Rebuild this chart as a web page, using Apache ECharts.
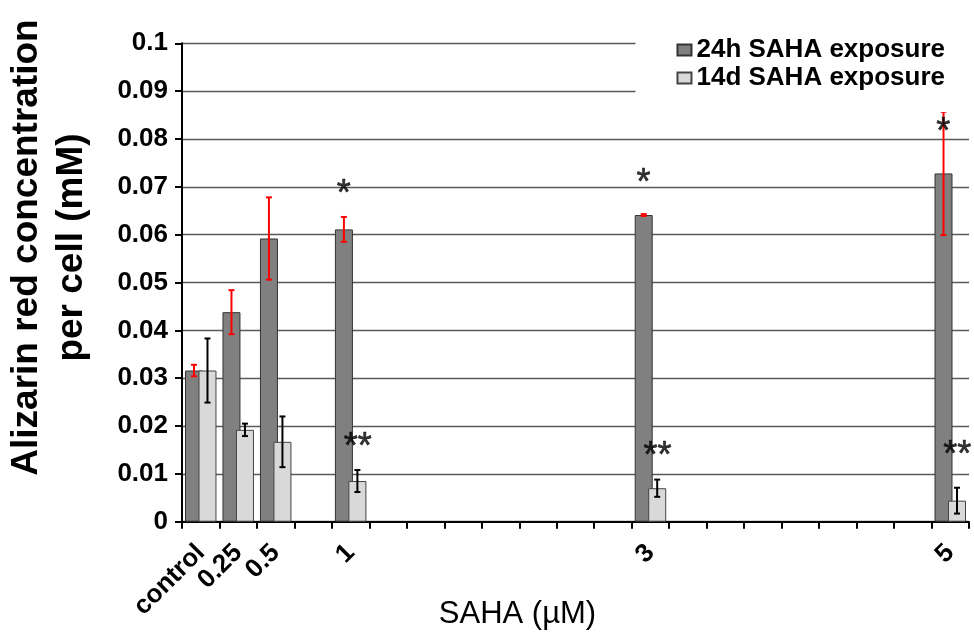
<!DOCTYPE html>
<html>
<head>
<meta charset="utf-8">
<script src="https://cdn.jsdelivr.net/npm/echarts@6/dist/echarts.min.js"></script>
<style>
html,body{margin:0;padding:0;background:#fff;}
#chart{width:974px;height:637px;}
</style>
</head>
<body>
<div id="chart"></div>
<script>
// Dose axis (0.25 µM steps), tick labels only at measured doses
const categories = ['control','0.25','0.5','','1','','','','','','','','3','','','','','','','','5'];
const seriesNames = ['24h SAHA exposure','14d SAHA exposure'];
const values24h = [0.0316,0.0438,0.0592,null,0.0611,null,null,null,null,null,null,null,0.0641,null,null,null,null,null,null,null,0.0728];
const err24h    = [0.0012,0.0046,0.0086,null,0.0026,null,null,null,null,null,null,null,0.0002,null,null,null,null,null,null,null,0.0129];
const values14d = [0.0316,0.0192,0.0167,null,0.0085,null,null,null,null,null,null,null,0.0070,null,null,null,null,null,null,null,0.0044];
const err14d    = [0.0067,0.0013,0.0053,null,0.0023,null,null,null,null,null,null,null,0.0018,null,null,null,null,null,null,null,0.0027];
// significance marks (text, y value in mM)
const sig24hText = [null,null,null,null,'*',null,null,null,null,null,null,null,'*',null,null,null,null,null,null,null,'*'];
const sig24hY    = [null,null,null,null,0.0683,null,null,null,null,null,null,null,0.0706,null,null,null,null,null,null,null,0.0812];
const sig14dText = [null,null,null,null,'**',null,null,null,null,null,null,null,'**',null,null,null,null,null,null,null,'**'];
const sig14dY    = [null,null,null,null,0.0153,null,null,null,null,null,null,null,0.0135,null,null,null,null,null,null,null,0.0137];
const yTicks = {min:0, max:0.1, interval:0.01};

const FONT = 'Liberation Sans, Arial, sans-serif';
const CAT_GAP = 0.16, BAR_GAP = -0.25;

function errData(vals, errs){
  const out = [];
  vals.forEach((v,i)=>{ if(v!=null && errs[i]!=null) out.push([i, v, errs[i]]); });
  return out;
}
function sigData(texts, ys){
  const out = [];
  texts.forEach((t,i)=>{ if(t) out.push({value:[i, ys[i]], name:t}); });
  return out;
}
function errRender(sign, color){
  return function(params, api){
    const idx = api.value(0), v = api.value(1), e = api.value(2);
    const band = api.size([1,0])[0];
    const bw = band*(1-CAT_GAP)/(2+BAR_GAP);
    const off = sign * bw*(1+BAR_GAP)/2;
    const x = api.coord([idx, v])[0] + off;
    const yt = api.coord([idx, v+e])[1];
    const yb = api.coord([idx, v-e])[1];
    const cap = 3;
    const st = {stroke: color, lineWidth: 2};
    return {type:'group', children:[
      {type:'line', shape:{x1:x,y1:yt,x2:x,y2:yb}, style:st},
      {type:'line', shape:{x1:x-cap,y1:yt,x2:x+cap,y2:yt}, style:st},
      {type:'line', shape:{x1:x-cap,y1:yb,x2:x+cap,y2:yb}, style:st}
    ]};
  };
}
function sigSeries(texts, ys, dx){
  return {
    type:'scatter', data: sigData(texts, ys), symbolSize: 0, silent:true,
    label:{show:true, position:'inside', offset:[dx,0], formatter: p=>p.name,
      fontFamily: FONT, fontSize: 36, color:'#000', verticalAlign:'middle', align:'center',
      textBorderColor:'#000', textBorderWidth:0.6},
    z: 5
  };
}

const chart = echarts.init(document.getElementById('chart'), null, {renderer:'canvas'});
chart.setOption({
  backgroundColor:'#fff',
  animation:false,
  grid:{left:182, right:5, top:43.3, bottom:115.3, containLabel:false, outerBoundsMode:'none'},
  legend:{
    data: seriesNames, orient:'vertical', right:0, top:20,
    padding:[16, 29, 20, 41], backgroundColor:'#fff',
    itemWidth:14, itemHeight:11, itemGap:0, icon:'rect',
    textStyle:{fontFamily:FONT, fontSize:26, fontWeight:'bold', color:'#000', lineHeight:28},
    z: 10
  },
  xAxis:{
    type:'category', data: categories, boundaryGap:true,
    name:'SAHA (µM)', nameLocation:'middle', nameGap:77, nameMoveOverlap:false,
    nameTextStyle:{fontFamily:FONT, fontSize:31, color:'#000', verticalAlign:'top', padding:[0,116,0,0]},
    axisLine:{lineStyle:{color:'#000', width:2}},
    axisTick:{show:true, interval:0, length:7, lineStyle:{color:'#000', width:2}},
    axisLabel:{interval:0, rotate:45, margin:27, fontFamily:FONT, fontSize:26, fontWeight:'bold', color:'#000'},
    splitLine:{show:false}
  },
  yAxis:{
    type:'value', min:yTicks.min, max:yTicks.max, interval:yTicks.interval,
    name:'Alizarin red concentration\nper cell (mM)', nameLocation:'middle', nameGap:88, nameRotate:90, nameMoveOverlap:false,
    nameTextStyle:{fontFamily:FONT, fontSize:37, fontWeight:'bold', color:'#000', lineHeight:45, padding:[0,0,0,70]},
    axisLine:{show:true, lineStyle:{color:'#000', width:2}},
    axisTick:{show:true, length:7, lineStyle:{color:'#000', width:2}},
    axisLabel:{margin:14, fontFamily:FONT, fontSize:26, fontWeight:'bold', color:'#000',
      formatter: v => String(+v.toFixed(2))},
    splitLine:{show:true, lineStyle:{color:'#5a5a5a', width:1.3}}
  },
  series:[
    {name:seriesNames[0], type:'bar', data: values24h, barCategoryGap:(CAT_GAP*100)+'%', barGap:(BAR_GAP*100)+'%',
      itemStyle:{color:'#808080', borderColor:'#333333', borderWidth:1}, z:2},
    {name:seriesNames[1], type:'bar', data: values14d, barCategoryGap:(CAT_GAP*100)+'%', barGap:(BAR_GAP*100)+'%',
      itemStyle:{color:'#d9d9d9', borderColor:'#444444', borderWidth:1}, z:2},
    {type:'custom', data: errData(values24h, err24h), renderItem: errRender(-1, '#ff0000'), encode:{x:0,y:1}, z:4, silent:true},
    {type:'custom', data: errData(values14d, err14d), renderItem: errRender(1, '#000000'), encode:{x:0,y:1}, z:4, silent:true},
    sigSeries(sig24hText, sig24hY, -7),
    sigSeries(sig14dText, sig14dY, 7)
  ]
});
</script>
</body>
</html>
